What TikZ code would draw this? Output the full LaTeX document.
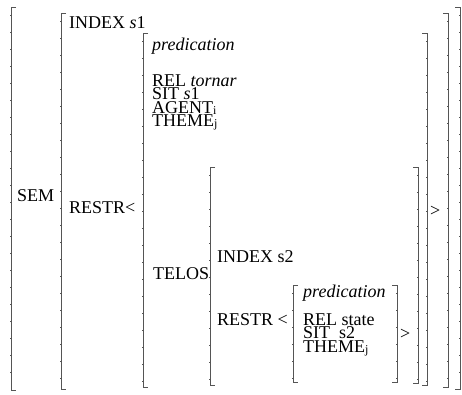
\documentclass[tikz,border=0pt]{standalone}
\usepackage{fontspec}
\setmainfont{Liberation Serif}
\definecolor{brkgray}{HTML}{555555}
\tikzset{
  txt/.style={anchor=base west, inner sep=0pt, font=\fontsize{18}{13.5}\selectfont},
  brk/.style={draw=brkgray, line width=1pt},
  brktick/.style={draw=brkgray, line width=2.2pt, dash pattern=on 0.6pt off 16.4pt},
}
\newcommand\subsc[1]{\raisebox{-1pt}{\fontsize{12}{12}\selectfont #1}}
\newcommand\stacklines[1]{\vtop{\lineskiplimit=-100pt\baselineskip=13.5pt\lineskip=0pt #1}}
\newcommand\lbrk[3]{%
  \draw[brk] ({#1+5},#2) -- (#1,#2) -- (#1,#3) -- ({#1+5},#3);
  \draw[brktick] (#1,{#2+8}) -- (#1,{#3-3});}
\newcommand\rbrk[3]{%
  \draw[brk] ({#1-5},#2) -- (#1,#2) -- (#1,#3) -- ({#1-5},#3);
  \draw[brktick] (#1,{#2+8}) -- (#1,{#3-3});}
\begin{document}
\begin{tikzpicture}[x=1pt,y=-1pt]
\useasboundingbox (0,0) rectangle (462,394);
% brackets
\lbrk{11}{7}{390}   \rbrk{460}{7}{389}
\lbrk{61}{13}{389}  \rbrk{448}{13}{387}
\lbrk{143}{33}{387} \rbrk{427}{33}{385}
\lbrk{210}{167}{385}\rbrk{418}{167}{383}
\lbrk{293}{285}{382}\rbrk{397}{285}{382}
% texts
\node[txt] (sem) at (17,201) {SEM};
\node[txt] (index1) at (69,28) {INDEX \textit{s}1};
\node[txt] (restr1) at (69,213) {RESTR<};
\node[txt] (pred1) at (152,50) {\textit{predication}};
\node[txt] (feat1) at (152,86) {\stacklines{\hbox{REL \textit{tornar}}\hbox{SIT \textit{s}1}\hbox{AGENT\subsc{i}}\hbox{THEME\subsc{j}}}};
\node[txt] (gt1) at (430,216) {>};
\node[txt] (telos) at (153,279) {TELOS};
\node[txt] (index2) at (217,262) {INDEX s2};
\node[txt] (restr2) at (217,325) {RESTR <};
\node[txt] (pred2) at (303,297) {\textit{predication}};
\node[txt] (feat2) at (303,325) {\stacklines{\hbox{REL state}\hbox{SIT~~s2}\hbox{THEME\subsc{j}}}};
\node[txt] (gt2) at (400,339) {>};
\end{tikzpicture}
\end{document}
